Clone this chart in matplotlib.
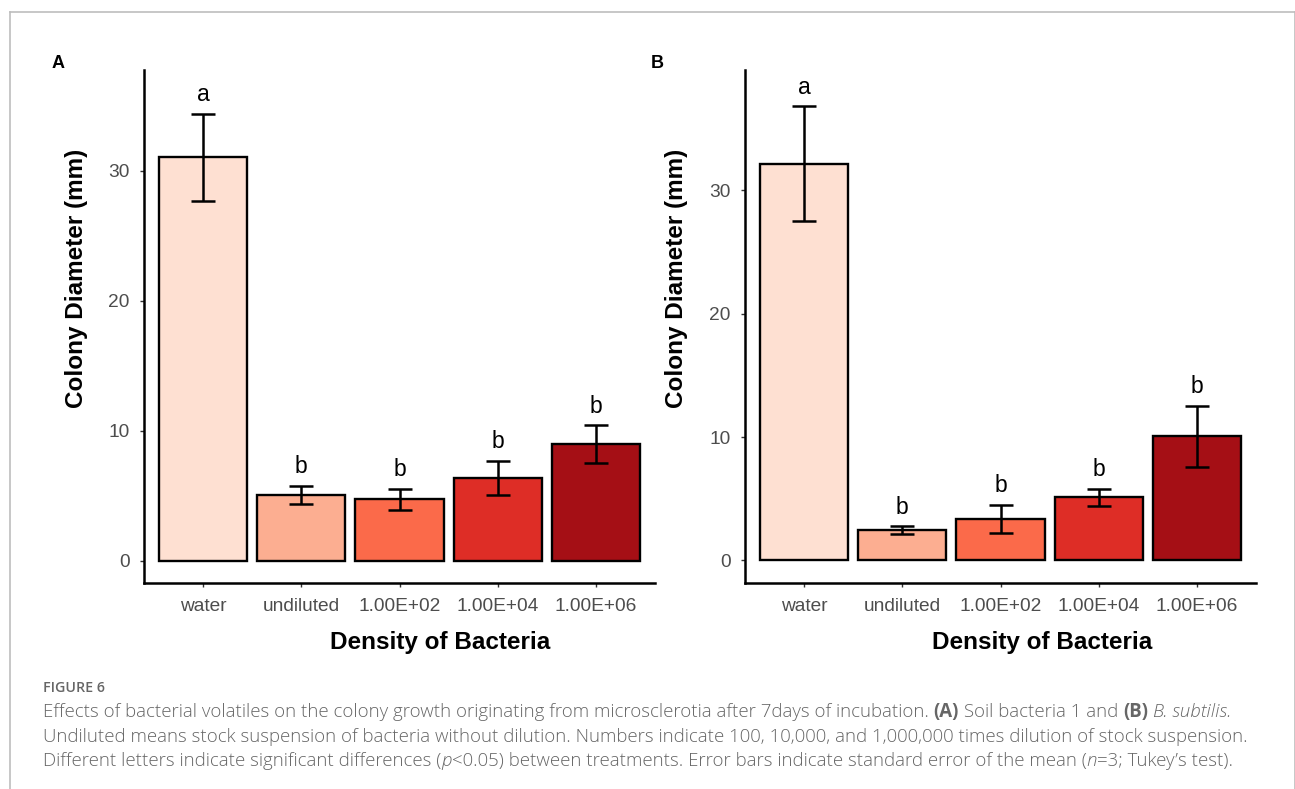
import matplotlib
matplotlib.use("Agg")
import matplotlib.pyplot as plt
from matplotlib.transforms import IdentityTransform
from matplotlib.lines import Line2D

plt.rcParams["font.family"] = ["Liberation Sans", "DejaVu Sans"]

# treatment levels on the x axis
categories = ["water", "undiluted", "1.00E+02", "1.00E+04", "1.00E+06"]
bar_colors = ["#FEE0D2", "#FCAE91", "#FB6A4A", "#DE2D26", "#A50F15"]

# (A) soil bacteria 1: mean colony diameter (mm) and standard error
soil_mean = [31.05, 5.05, 4.72, 6.38, 8.98]
soil_se = [3.35, 0.72, 0.82, 1.32, 1.43]
soil_letters = ["a", "b", "b", "b", "b"]

# (B) B. subtilis
subtilis_mean = [32.15, 2.46, 3.35, 5.12, 10.05]
subtilis_se = [4.66, 0.30, 1.16, 0.70, 2.47]
subtilis_letters = ["a", "b", "b", "b", "b"]

W, H = 1295, 789
fig = plt.figure(figsize=(W / 100, H / 100), dpi=100)
px = IdentityTransform()


def box(left, right, top, bottom):
    return [left / W, 1 - bottom / H, (right - left) / W, (bottom - top) / H]


def bar_panel(ax, means, ses, letters, ylim):
    x = list(range(len(categories)))
    ax.bar(x, means, width=0.9, color=bar_colors, edgecolor="black",
           linewidth=1.7, zorder=2)
    ax.errorbar(x, means, yerr=ses, fmt="none", ecolor="black",
                elinewidth=1.8, capsize=8.5, capthick=1.8, zorder=3)
    for i, (m, s, lab) in enumerate(zip(means, ses, letters)):
        ax.annotate(lab, (i, m + s), xytext=(0, 9), textcoords="offset points",
                    ha="center", va="baseline", fontsize=16.5)
    ax.set_xlim(-0.6, len(categories) - 0.4)
    ax.set_ylim(*ylim)
    ax.set_xticks(x)
    ax.set_xticklabels(categories)
    ax.set_yticks([0, 10, 20, 30])
    for side in ["top", "right"]:
        ax.spines[side].set_visible(False)
    for side in ["left", "bottom"]:
        ax.spines[side].set_linewidth(1.8)
    ax.tick_params(direction="out", length=3, width=1, color="#333333",
                   labelcolor="#4D4D4D", labelsize=13.8, pad=7.5)


axA = fig.add_axes(box(144, 655, 70, 583))
bar_panel(axA, soil_mean, soil_se, soil_letters, (-1.72, 37.75))
axB = fig.add_axes(box(745, 1256, 70, 583))
bar_panel(axB, subtilis_mean, subtilis_se, subtilis_letters, (-1.83, 39.76))

# axis titles and panel tags
for xl, yl, tag, tx in [(440, 76, "A", 52), (1042, 677, "B", 651)]:
    fig.text(xl, H - 642, "Density of Bacteria", transform=px, ha="center",
             va="center", fontsize=17.5, fontweight="bold")
    fig.text(yl, H - 278, "Colony Diameter (mm)", transform=px, ha="center",
             va="center", rotation=90, fontsize=17.5, fontweight="bold")
    fig.text(tx, H - 68, tag, transform=px, ha="left", va="baseline",
             fontsize=13, fontweight="bold")

# frame around the figure
frame = dict(color="#BDBDBD", linewidth=1.2, transform=px)
fig.add_artist(Line2D([9.5, 1294.5], [H - 12, H - 12], **frame))
fig.add_artist(Line2D([9.5, 9.5], [0, H - 12], **frame))
fig.add_artist(Line2D([1294.5, 1294.5], [0, H - 12], **frame))

# caption
cap_font = ["Open Sans", "DejaVu Sans"]
cap_color = "#666666"
cap_size = 13.4
renderer = fig.canvas.get_renderer()


def seg_width(s, **kw):
    a = fig.text(0, 0, "X" + s + "X", transform=px, **kw)
    b = fig.text(0, 0, "XX", transform=px, **kw)
    w = a.get_window_extent(renderer).width - b.get_window_extent(renderer).width
    a.remove()
    b.remove()
    return w


def rich_line(x, y, parts):
    for s, style in parts:
        kw = dict(family=cap_font, fontsize=cap_size, color=cap_color,
                  fontweight="light")
        if style == "b":
            kw["fontweight"] = "bold"
        elif style == "i":
            kw["fontstyle"] = "italic"
        fig.text(x, H - y, s, transform=px, ha="left", va="baseline", **kw)
        x += seg_width(s, **kw)


fig.text(43, H - 691.7, "FIGURE 6", transform=px, ha="left", va="baseline",
         family=cap_font, fontsize=10.3, fontweight="semibold", color=cap_color)

rich_line(43, 716.7, [
    ("Effects of bacterial volatiles on the colony growth originating from "
     "microsclerotia after 7days of incubation. ", ""),
    ("(A)", "b"), (" Soil bacteria 1 and ", ""), ("(B)", "b"), (" ", ""),
    ("B. subtilis.", "i")])
rich_line(43, 741.5, [
    ("Undiluted means stock suspension of bacteria without dilution. Numbers "
     "indicate 100, 10,000, and 1,000,000 times dilution of stock suspension.", "")])
rich_line(43, 766.2, [
    ("Different letters indicate significant differences (", ""), ("p", "i"),
    ("<0.05) between treatments. Error bars indicate standard error of the mean (", ""),
    ("n", "i"), ("=3; Tukey\u2019s test).", "")])

fig.savefig("out.png", dpi=100)
